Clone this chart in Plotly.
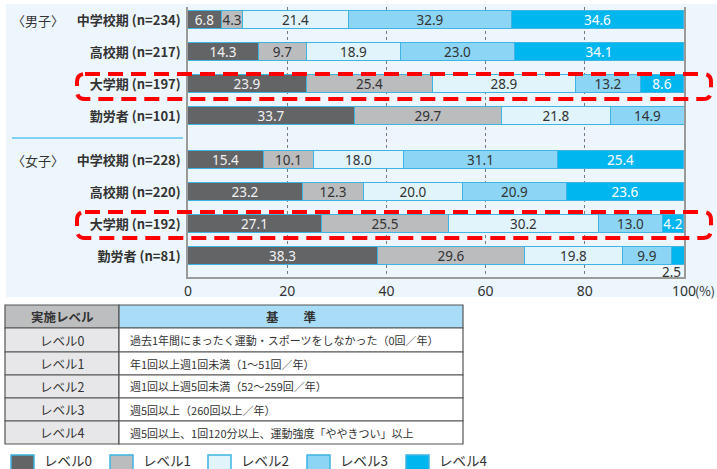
import plotly.graph_objects as go

# ---------------- data ----------------
periods = ["中学校期", "高校期", "大学期", "勤労者"]
n_male = [234, 217, 197, 101]
n_female = [228, 220, 192, 81]
level_names = ["レベル0", "レベル1", "レベル2", "レベル3", "レベル4"]

male_level0 = [6.8, 14.3, 23.9, 33.7]
male_level1 = [4.3, 9.7, 25.4, 29.7]
male_level2 = [21.4, 18.9, 28.9, 21.8]
male_level3 = [32.9, 23.0, 13.2, 14.9]
male_level4 = [34.6, 34.1, 8.6, 0.0]

female_level0 = [15.4, 23.2, 27.1, 38.3]
female_level1 = [10.1, 12.3, 25.5, 29.6]
female_level2 = [18.0, 20.0, 30.2, 19.8]
female_level3 = [31.1, 20.9, 13.0, 9.9]
female_level4 = [25.4, 23.6, 4.2, 2.5]

x_ticks = [0, 20, 40, 60, 80, 100]

table_header = ["実施レベル", "基　　準"]
table_levels = ["レベル0", "レベル1", "レベル2", "レベル3", "レベル4"]
table_criteria = [
    "過去1年間にまったく運動・スポーツをしなかった（0回／年）",
    "年1回以上週1回未満（1～51回／年）",
    "週1回以上週5回未満（52～259回／年）",
    "週5回以上（260回以上／年）",
    "週5回以上、1回120分以上、運動強度「ややきつい」以上",
]

# ---------------- styles ----------------
colors = ["#636466", "#bbbcbe", "#e1f4fc", "#8dd5f5", "#00b6ef"]
text_colors = ["#f2f2f2", "#333333", "#333333", "#333333", "#ffffff"]
edge = "#3db4e4"
JP = "Noto Sans CJK JP"
NUM = "Noto Sans"

W, H = 717, 469
L, R, T, B = 188, 684, 7, 277


def X(px):
    return (px - L) / (R - L)


def Y(py):
    return (B - py) / (B - T)


# row positions (male rows then female rows, with extra gap)
female_offset = 4.375
y_male = [i for i in range(len(periods))]
y_female = [female_offset + i for i in range(len(periods))]
y_pos = y_male + y_female
y_labels = [f"<b>{p} (n={n})</b>" for p, n in zip(periods, n_male)] + \
           [f"<b>{p} (n={n})</b>" for p, n in zip(periods, n_female)]

male_levels = [male_level0, male_level1, male_level2, male_level3, male_level4]
female_levels = [female_level0, female_level1, female_level2, female_level3, female_level4]

fig = go.Figure()
for k in range(5):
    vals = male_levels[k] + female_levels[k]
    texts = []
    for j, v in enumerate(vals):
        if v < 3:
            texts.append("")
        else:
            texts.append(f"{v:.1f}")
    fig.add_trace(go.Bar(
        y=y_pos, x=vals, orientation="h", name=level_names[k],
        width=0.5625,
        marker=dict(color=colors[k], line=dict(color=edge, width=1)),
        text=texts, textposition="inside", insidetextanchor="middle",
        textangle=0, constraintext="none",
        insidetextfont=dict(family=NUM, size=13.5, color=text_colors[k]),
        hoverinfo="skip", showlegend=False,
    ))

# small value shown below the bar
small_v = female_level4[3]
fig.add_annotation(x=100, y=y_female[3] + 0.5, xref="x", yref="y",
                   text=f"{small_v:.1f}", showarrow=False, xanchor="right",
                   yanchor="middle", xshift=-1,
                   font=dict(family=NUM, size=13.5, color="#333333"))

shapes = []
# light blue panel (below plot bg)
shapes.append(dict(type="rect", xref="paper", yref="paper", layer="below",
                   x0=X(6), x1=X(720), y0=Y(4), y1=Y(297),
                   fillcolor="#edf6fc", line=dict(width=0)))
# separator line
shapes.append(dict(type="line", xref="paper", yref="paper",
                   x0=X(12), x1=X(183), y0=Y(138), y1=Y(138),
                   line=dict(color="#5cc5ef", width=1.5)))


def rounded_rect(x0, y0, x1, y1, r):
    pts = [
        f"M {X(x0 + r)},{Y(y0)}",
        f"L {X(x1 - r)},{Y(y0)}",
        f"Q {X(x1)},{Y(y0)} {X(x1)},{Y(y0 + r)}",
        f"L {X(x1)},{Y(y1 - r)}",
        f"Q {X(x1)},{Y(y1)} {X(x1 - r)},{Y(y1)}",
        f"L {X(x0 + r)},{Y(y1)}",
        f"Q {X(x0)},{Y(y1)} {X(x0)},{Y(y1 - r)}",
        f"L {X(x0)},{Y(y0 + r)}",
        f"Q {X(x0)},{Y(y0)} {X(x0 + r)},{Y(y0)}",
        "Z",
    ]
    return " ".join(pts)


for (yt, yb) in [(74, 99), (212, 238)]:
    shapes.append(dict(type="path", xref="paper", yref="paper", layer="above",
                       path=rounded_rect(77, yt, 711, yb, 8),
                       line=dict(color="#ff0000", width=4, dash="15px,8px")))

# table
tx0, tx1, tx2 = 5, 119, 463
row_edges = [305, 328, 352, 375, 398, 421, 444]
border = "#555555"
shapes.append(dict(type="rect", xref="paper", yref="paper", x0=X(tx0), x1=X(tx1),
                   y0=Y(row_edges[0]), y1=Y(row_edges[1]), fillcolor="#bdbec0",
                   line=dict(color=border, width=1.2)))
shapes.append(dict(type="rect", xref="paper", yref="paper", x0=X(tx1), x1=X(tx2),
                   y0=Y(row_edges[0]), y1=Y(row_edges[1]), fillcolor="#a9ddf7",
                   line=dict(color=border, width=1.2)))
annotations = []
annotations.append(dict(x=X((tx0 + tx1) / 2), y=Y((row_edges[0] + row_edges[1]) / 2),
                        text=f"<b>{table_header[0]}</b>", xanchor="center",
                        font=dict(family=JP, size=12.5, color="#333333")))
annotations.append(dict(x=X((tx1 + tx2) / 2), y=Y((row_edges[0] + row_edges[1]) / 2),
                        text=f"<b>{table_header[1]}</b>", xanchor="center",
                        font=dict(family=JP, size=12.5, color="#333333")))
for i in range(5):
    ya, yb = row_edges[i + 1], row_edges[i + 2]
    shapes.append(dict(type="rect", xref="paper", yref="paper", x0=X(tx0), x1=X(tx1),
                       y0=Y(ya), y1=Y(yb), fillcolor="#e7e7e9",
                       line=dict(color=border, width=1.2)))
    shapes.append(dict(type="rect", xref="paper", yref="paper", x0=X(tx1), x1=X(tx2),
                       y0=Y(ya), y1=Y(yb), fillcolor="#ffffff",
                       line=dict(color=border, width=1.2)))
    annotations.append(dict(x=X((tx0 + tx1) / 2), y=Y((ya + yb) / 2),
                            text=table_levels[i], xanchor="center",
                            font=dict(family=JP, size=12.5, color="#333333")))
    annotations.append(dict(x=X(128), y=Y((ya + yb) / 2), xanchor="left",
                            text=table_criteria[i],
                            font=dict(family=JP, size=11, color="#333333")))

# legend
leg_x = [11, 110, 208, 307, 406]
for k in range(5):
    shapes.append(dict(type="rect", xref="paper", yref="paper",
                       x0=X(leg_x[k]), x1=X(leg_x[k] + 23), y0=Y(455), y1=Y(480),
                       fillcolor=colors[k], line=dict(color=edge, width=1.5)))
    annotations.append(dict(x=X(leg_x[k] + 31), y=Y(460), xanchor="left",
                            text=level_names[k],
                            font=dict(family=JP, size=13.5, color="#333333")))

# group labels
annotations.append(dict(x=X(10), y=Y(20), xanchor="left", text="〈男子〉",
                        font=dict(family=JP, size=13, color="#333333")))
annotations.append(dict(x=X(10), y=Y(160), xanchor="left", text="〈女子〉",
                        font=dict(family=JP, size=13, color="#333333")))
# unit
annotations.append(dict(x=X(693), y=Y(290), xanchor="left", text="(%)",
                        font=dict(family=JP, size=12.5, color="#333333")))

for a in annotations:
    a.setdefault("xref", "paper")
    a.setdefault("yref", "paper")
    a.setdefault("yanchor", "middle")
    a.setdefault("showarrow", False)
    fig.add_annotation(**a)

fig.update_layout(
    width=W, height=H,
    margin=dict(l=L, r=W - R, t=T, b=H - B, pad=0),
    barmode="stack", bargap=0,
    paper_bgcolor="#ffffff", plot_bgcolor="#ffffff",
    shapes=shapes,
    xaxis=dict(range=[0, 100], tickvals=x_ticks, ticktext=[str(t) for t in x_ticks],
               showgrid=True, gridcolor="#7a7a7a", griddash="dot", gridwidth=1,
               zeroline=False, showline=True, linecolor="#9a9a9a", linewidth=1.5,
               ticks="", tickfont=dict(family=NUM, size=14, color="#333333"),
               fixedrange=True),
    yaxis=dict(range=[8.03125, -0.40625], tickvals=y_pos, ticktext=y_labels,
               showgrid=False, zeroline=False, showline=True, mirror=True,
               linecolor="#9a9a9a", linewidth=1.5, ticks="", ticklabelstandoff=3,
               tickfont=dict(family=JP, size=13, color="#333333"), fixedrange=True),
    showlegend=False,
)

fig.write_html("out.html", config={"displayModeBar": False},
               post_script="document.body.style.margin='0px';")
